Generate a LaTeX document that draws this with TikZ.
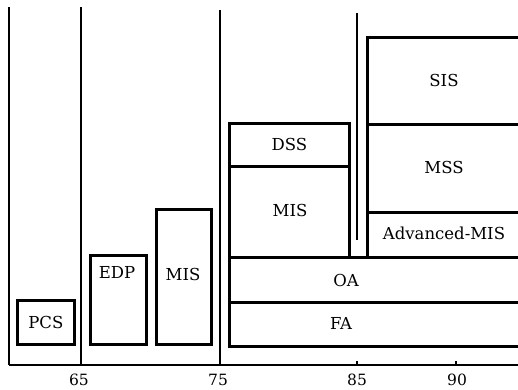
\documentclass[tikz,border=0pt]{standalone}
\usepackage{fontspec}
\setmainfont{DejaVu Serif}
\begin{document}
\begin{tikzpicture}[x=1pt,y=-1pt,
  box/.style={draw=black,line width=2.8pt,rectangle,inner sep=0pt},
  lbl/.style={font=\fontsize{16.5}{20}\selectfont,inner sep=0pt},
  yr/.style={font=\fontsize{15.5}{18}\selectfont,inner sep=0pt},
  grid/.style={line width=1.4pt},
  axis/.style={line width=1.8pt}]
\useasboundingbox (0,0) rectangle (518,389);
\clip (0,0) rectangle (518,389);
% vertical era lines
\coordinate (g1t) at (9,7);    \coordinate (g1b) at (9,365);
\coordinate (g2t) at (81,7);   \coordinate (g2b) at (81,365);
\coordinate (g3t) at (220,10); \coordinate (g3b) at (220,365);
\coordinate (g4t) at (357,13); \coordinate (g4b) at (357,240);
\draw[grid] (g1t) -- (g1b);
\draw[grid] (g2t) -- (g2b);
\draw[grid] (g3t) -- (g3b);
\draw[grid] (g4t) -- (g4b);
% axis
\coordinate (a0) at (9,365); \coordinate (a1) at (530,365);
\draw[axis] (a0) -- (a1);
\coordinate (t85a) at (357,365); \coordinate (t85b) at (357,361);
\coordinate (t90a) at (456,365); \coordinate (t90b) at (456,361);
\draw[grid] (t85a) -- (t85b);
\draw[grid] (t90a) -- (t90b);
\node[yr] (y65) at (79,380) {65};
\node[yr] (y75) at (218,380) {75};
\node[yr] (y85) at (357,380) {85};
\node[yr] (y90) at (457,380) {90};
% left boxes
\node[box,lbl,anchor=north west,minimum width=57pt,minimum height=44pt] (pcs) at (16,299) {PCS};
\node[box,anchor=north west,minimum width=56pt,minimum height=89pt] (edp) at (89,254) {};
\node[lbl] (edpl) at (117,272) {EDP};
\node[box,anchor=north west,minimum width=55pt,minimum height=135pt] (mis1) at (155,208) {};
\node[lbl] (mis1l) at (183,274) {MIS};
% middle column
\node[box,lbl,anchor=north west,minimum width=120pt,minimum height=43pt] (dss) at (228,122) {DSS};
\node[box,anchor=north west,minimum width=120pt,minimum height=91pt] (mis2) at (228,165) {};
\node[lbl] (mis2l) at (290,210) {MIS};
\node[box,anchor=north west,minimum width=310pt,minimum height=45pt] (oa) at (228,256) {};
\node[lbl] (oal) at (346,280) {OA};
\node[box,anchor=north west,minimum width=310pt,minimum height=44pt] (fa) at (228,301) {};
\node[lbl] (fal) at (341,323) {FA};
% right column
\node[box,anchor=north west,minimum width=170pt,minimum height=87pt] (sis) at (366,36) {};
\node[lbl] (sisl) at (444,80) {SIS};
\node[box,anchor=north west,minimum width=170pt,minimum height=88pt] (mss) at (366,123) {};
\node[lbl] (mssl) at (444,167) {MSS};
\node[box,anchor=north west,minimum width=170pt,minimum height=45pt] (amis) at (366,211) {};
\node[lbl] (amisl) at (444,233) {Advanced-MIS};
\end{tikzpicture}
\end{document}
